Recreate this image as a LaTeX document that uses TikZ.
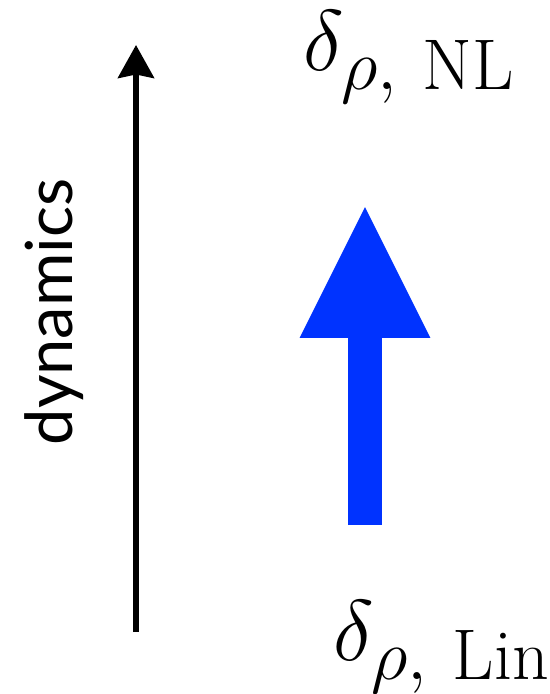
\documentclass[tikz,border=0pt]{standalone}
\usepackage{fontspec}
\newfontfamily\axisfont{Lato}
\usetikzlibrary{positioning,arrows.meta}
\definecolor{flowblue}{RGB}{0,51,255}
\tikzset{
  axisarr/.style={-{Stealth[length=0.66cm, width=0.72cm, inset=0.07cm]}, line width=0.11cm, draw=black},
  flowarr/.style={-{Triangle[length=2.62cm, width=2.62cm, line width=0pt]}, line width=0.68cm, draw=flowblue},
  mathlbl/.style={inner sep=0pt, font=\Huge, scale=1.97, transform shape},
  axislbl/.style={inner sep=0pt, font=\axisfont\fontsize{37}{44}\selectfont},
}
\begin{document}
\begin{tikzpicture}[x=0.02cm, y=-0.02cm]
  \useasboundingbox (0,0) rectangle (550,694);

  % time axis on the left
  \coordinate (axbot) at (136,632);
  \coordinate (axtop) at (136,45);
  \draw[axisarr] (axbot) -- (axtop);
  \node[axislbl, rotate=90, anchor=base] (dyn) at (72,312) {dynamics};

  % big blue arrow
  \coordinate (flowbot) at (365,525);
  \coordinate (flowtop) at (365,207);
  \draw[flowarr] (flowbot) -- (flowtop);

  \node[mathlbl, anchor=base west] (nl) at (303,70) {$\delta_{\rho,\ \mathrm{NL}}$};
  \node[mathlbl, anchor=base west] (lin) at (333,660) {$\delta_{\rho,\ \mathrm{Lin}}$};
\end{tikzpicture}
\end{document}
